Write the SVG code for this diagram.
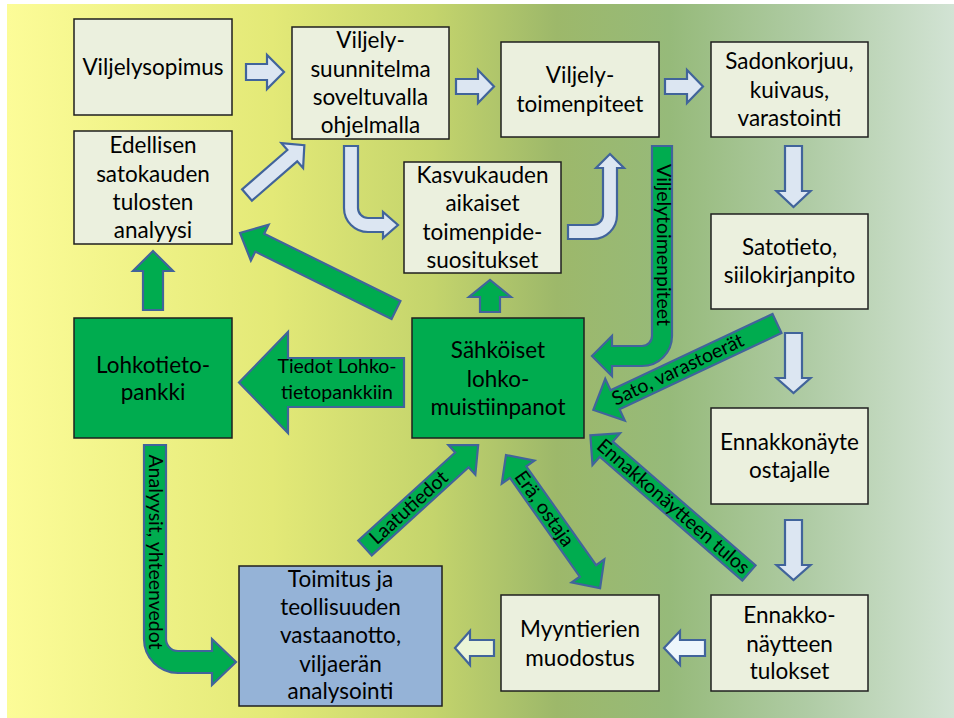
<svg xmlns="http://www.w3.org/2000/svg" width="954" height="718" viewBox="0 0 954 718">
<defs>
<linearGradient id="bg" x1="0" y1="0" x2="1" y2="0">
<stop offset="0" stop-color="#FCFC98"/>
<stop offset="0.28" stop-color="#E3E977"/>
<stop offset="0.45" stop-color="#C4D46C"/>
<stop offset="0.58" stop-color="#9DB86A"/>
<stop offset="0.70" stop-color="#96BA7A"/>
<stop offset="0.85" stop-color="#B0CCA6"/>
<stop offset="1" stop-color="#D2E3D4"/>
</linearGradient>
<style>
.box{fill:#EBF0DE;stroke:#1f1f1f;stroke-width:1.5}
.gbox{fill:#00AC4F;stroke:#1f1f1f;stroke-width:1.5}
.bbox{fill:#95B3D7;stroke:#1f1f1f;stroke-width:1.5}
.la{fill:#DCE6F2;stroke:#41649B;stroke-width:2.2;stroke-linejoin:miter}
.ga{fill:#00AC4F;stroke:#41649B;stroke-width:2.2;stroke-linejoin:miter}
text{font-family:Lato,"Liberation Sans",sans-serif;fill:#000}
.t{font-size:22.5px;text-anchor:middle}
.l{font-size:19.5px;text-anchor:middle}
</style>
</defs>
<rect x="7" y="4" width="947" height="714" fill="url(#bg)"/>

<g id="connectors">
<!-- light arrows -->
<polygon class="la" points="246,64 267,64 267,55 284,72 267,89 267,80 246,80"/>
<polygon class="la" points="456,79 478,79 478,70 494,86.5 478,103 478,94 456,94"/>
<polygon class="la" points="665,79 687,79 687,70 703,86.5 687,103 687,94 665,94"/>
<polygon class="la" transform="translate(247,195) rotate(-41)" points="0,-7.5 60,-7.5 60,-16.5 76,0 60,16.5 60,7.5 0,7.5"/>
<path class="la" d="M344,146 H358 V208 A10,10 0 0 0 368,218 H383 V212 L398,225 L383,238 V232 H368 A24,24 0 0 1 344,208 Z"/>
<path class="la" d="M568,225 H593 A10,10 0 0 0 603,215 V168 H596 L610,154 L624,168 H617 V215 A24,24 0 0 1 593,239 H568 Z"/>
<polygon class="la" points="785,146 802,146 802,191 810.5,191 793.5,207 776.5,191 785,191"/>
<polygon class="la" points="785,333 802,333 802,378 810.5,378 793.5,393 776.5,378 785,378"/>
<polygon class="la" points="785,520 802,520 802,565 810.5,565 793.5,580 776.5,565 785,565"/>
<polygon class="la" style="fill:#EEF6FC" points="705,640 680,640 680,631 664,648 680,665 680,656 705,656"/>
<polygon class="la" style="fill:#EBF5D8" points="494,640 470,640 470,631 455,648 470,665 470,656 494,656"/>
<!-- green arrows -->
<polygon class="ga" points="143,310 143,271 133,271 153,251 173,271 163,271 163,310"/>
<polygon class="ga" points="480,312 480,297 469,297 490,280 511,297 500,297 500,312"/>
<polygon class="ga" transform="translate(396,310) rotate(206.3)" points="0,-10 152,-10 152,-20 174,0 152,20 152,10 0,10"/>
<polygon class="ga" points="404,358 288,358 288,332 239,382.5 288,433 288,407 404,407"/>
<path class="ga" d="M652,146 H672 V336 A30,30 0 0 1 642,366 H612 V376 L592,356 L612,336 V346 H642 A10,10 0 0 0 652,336 Z"/>
<path class="ga" d="M144,445 H166 V639 A12,12 0 0 0 178,651 H212 V639 L236,662 L212,685 V673 H178 A34,34 0 0 1 144,639 Z"/>
<polygon class="ga" transform="translate(777,323.5) rotate(154.8)" points="0,-10.5 179,-10.5 179,-23 203,0 179,23 179,10.5 0,10.5"/>
<polygon class="ga" transform="translate(365,548) rotate(-42.3)" points="0,-10 131,-10 131,-20 153,0 131,20 131,10 0,10"/>
<polygon class="ga" transform="translate(506,455) rotate(54.75)" points="0,0 21,-20 21,-10 142,-10 142,-20 163,0 142,20 142,10 21,10 21,20"/>
<polygon class="ga" transform="translate(749,573) rotate(-139.05)" points="0,-10 189,-10 189,-21 210,0 189,21 189,10 0,10"/>
<!-- labels -->
<text class="l" x="337" y="373">Tiedot Lohko-</text>
<text class="l" x="337" y="399">tietopankkiin</text>
<text class="l" transform="translate(663,245) rotate(90)" y="6">Viljelytoimenpiteet</text>
<text class="l" transform="translate(155,552) rotate(90)" y="6">Analyysit, yhteenvedot</text>
<text class="l" transform="translate(678,370) rotate(-25.2)" y="6">Sato, varastoerät</text>
<text class="l" transform="translate(673,507) rotate(40.95)" y="6">Ennakkonäytteen tulos</text>
<text class="l" transform="translate(544,509) rotate(54.75)" y="6">Erä, ostaja</text>
<text class="l" transform="translate(409,508) rotate(-42.3)" y="6">Laatutiedot</text>
</g>

<g id="n-viljelysopimus">
<rect class="box" x="74" y="19" width="158" height="96"/>
<text class="t" x="153" y="75">Viljelysopimus</text>
</g>
<g id="n-suunnitelma">
<rect class="box" x="292" y="27" width="157" height="112"/>
<text class="t" x="370.5" y="48">Viljely-</text>
<text class="t" x="370.5" y="77">suunnitelma</text>
<text class="t" x="370.5" y="105">soveltuvalla</text>
<text class="t" x="370.5" y="133">ohjelmalla</text>
</g>
<g id="n-toimenpiteet">
<rect class="box" x="501" y="42" width="158" height="95"/>
<text class="t" x="580" y="83">Viljely-</text>
<text class="t" x="580" y="112">toimenpiteet</text>
</g>
<g id="n-sadonkorjuu">
<rect class="box" x="711" y="42" width="157" height="95"/>
<text class="t" x="789.5" y="69">Sadonkorjuu,</text>
<text class="t" x="789.5" y="98">kuivaus,</text>
<text class="t" x="789.5" y="126">varastointi</text>
</g>
<g id="n-edellisen">
<rect class="box" x="74" y="131" width="158" height="113"/>
<text class="t" x="153" y="153">Edellisen</text>
<text class="t" x="153" y="182">satokauden</text>
<text class="t" x="153" y="210">tulosten</text>
<text class="t" x="153" y="238">analyysi</text>
</g>
<g id="n-kasvukauden">
<rect class="box" x="404" y="162" width="157" height="111"/>
<text class="t" x="482.5" y="183">Kasvukauden</text>
<text class="t" x="482.5" y="211">aikaiset</text>
<text class="t" x="482.5" y="240">toimenpide-</text>
<text class="t" x="482.5" y="268">suositukset</text>
</g>
<g id="n-satotieto">
<rect class="box" x="711" y="214" width="157" height="95"/>
<text class="t" x="789.5" y="255">Satotieto,</text>
<text class="t" x="789.5" y="283">siilokirjanpito</text>
</g>
<g id="n-lohkotietopankki">
<rect class="gbox" x="74" y="318" width="158" height="120"/>
<text class="t" x="153" y="373">Lohkotieto-</text>
<text class="t" x="153" y="400">pankki</text>
</g>
<g id="n-sahkoiset">
<rect class="gbox" x="412" y="318" width="172" height="120"/>
<text class="t" x="498" y="358">Sähköiset</text>
<text class="t" x="498" y="387">lohko-</text>
<text class="t" x="498" y="415">muistiinpanot</text>
</g>
<g id="n-ennakkonayte">
<rect class="box" x="711" y="408" width="157" height="96"/>
<text class="t" x="789.5" y="450">Ennakkonäyte</text>
<text class="t" x="789.5" y="478">ostajalle</text>
</g>
<g id="n-toimitus">
<rect class="bbox" x="239" y="566" width="203" height="140"/>
<text class="t" x="340.5" y="587">Toimitus ja</text>
<text class="t" x="340.5" y="615">teollisuuden</text>
<text class="t" x="340.5" y="643">vastaanotto,</text>
<text class="t" x="340.5" y="672">viljaerän</text>
<text class="t" x="340.5" y="699">analysointi</text>
</g>
<g id="n-myyntierien">
<rect class="box" x="501" y="595" width="158" height="96"/>
<text class="t" x="580" y="637">Myyntierien</text>
<text class="t" x="580" y="666">muodostus</text>
</g>
<g id="n-ennakkotulokset">
<rect class="box" x="711" y="595" width="157" height="96"/>
<text class="t" x="789.5" y="623">Ennakko-</text>
<text class="t" x="789.5" y="652">näytteen</text>
<text class="t" x="789.5" y="679">tulokset</text>
</g>
</svg>
